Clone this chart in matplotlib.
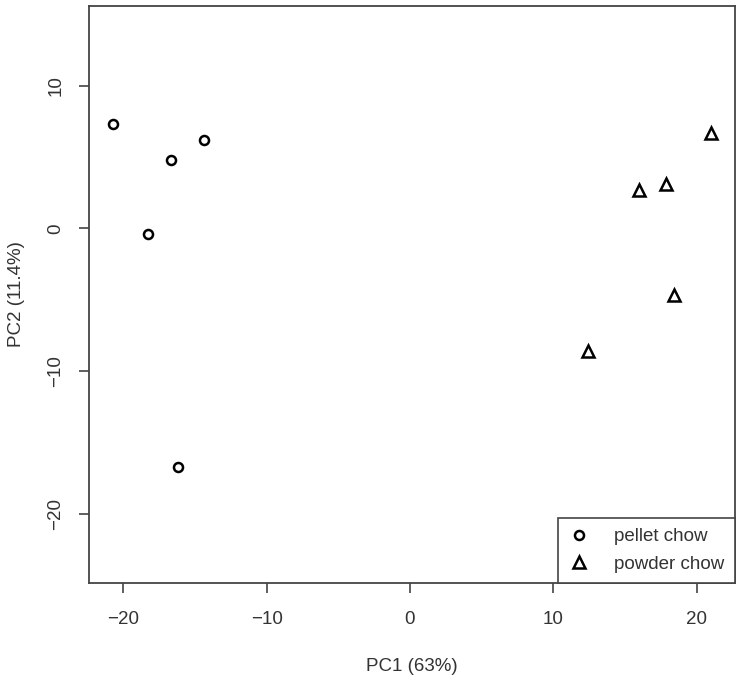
import numpy as np
import matplotlib.pyplot as plt

plt.rcParams['font.family'] = ['Liberation Sans', 'DejaVu Sans']

# PCA scores
pellet_pc1 = [-20.7, -14.4, -16.7, -18.3, -16.2]
pellet_pc2 = [7.3, 6.2, 4.8, -0.4, -16.7]
powder_pc1 = [21.0, 17.9, 16.0, 18.4, 12.4]
powder_pc2 = [6.7, 3.1, 2.7, -4.7, -8.6]

xticks = [-20, -10, 0, 10, 20]
yticks = [-20, -10, 0, 10]
txt = '#333333'
fs = 13.5

fig = plt.figure(figsize=(7.39, 6.80), dpi=100)
ax = fig.add_axes([0.1208, 0.1426, 0.8734, 0.8486])

ax.plot(pellet_pc1, pellet_pc2, 'o', ms=6.5, mfc='none', mec='black', mew=1.8,
        ls='none', label='pellet chow')
ax.plot(powder_pc1, powder_pc2, '^', ms=8, mfc='none', mec='black', mew=1.8,
        ls='none', label='powder chow')

ax.set_xlim(-22.37, 22.66)
ax.set_ylim(-24.86, 15.58)
ax.set_xticks(xticks)
ax.set_yticks(yticks)
ax.set_xticklabels([str(t).replace('-', '\u2212') for t in xticks])
ax.set_yticklabels([str(t).replace('-', '\u2212') for t in yticks], rotation=90, va='center')
ax.tick_params(length=7, width=1.2, color='#444444', labelsize=fs, labelcolor=txt, pad=11)
ax.tick_params(axis='x', pad=13)
for s in ax.spines.values():
    s.set_color('#444444')
    s.set_linewidth(1.3)

ax.set_xlabel('PC1 (63%)', fontsize=fs, color=txt, labelpad=22)
ax.set_ylabel('PC2 (11.4%)', fontsize=fs, color=txt, labelpad=16)

leg = ax.legend(loc='lower right', fontsize=fs, fancybox=False, framealpha=1,
                edgecolor='#444444', borderaxespad=0, handletextpad=1.27,
                borderpad=0.55, labelspacing=0.55, handlelength=1.2)
leg.get_frame().set_linewidth(1.2)
for t in leg.get_texts():
    t.set_color(txt)

fig.savefig('out.png', dpi=100)
